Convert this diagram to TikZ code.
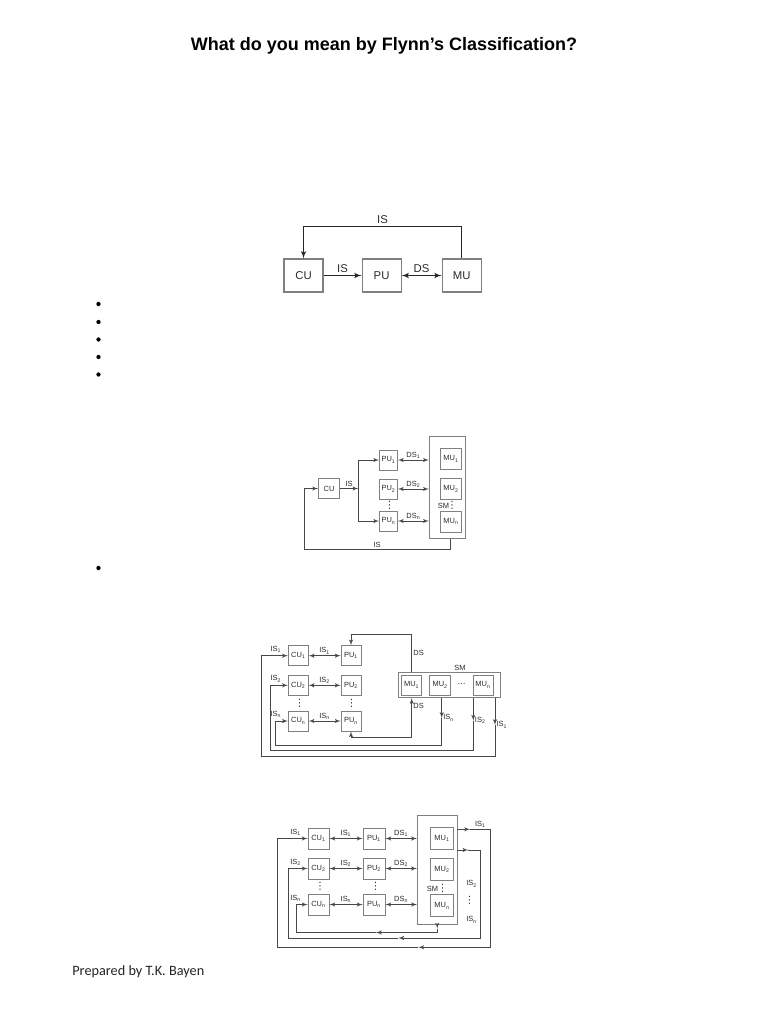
\documentclass[tikz,border=0pt]{standalone}
\usepackage{fontspec}
\setmainfont{Liberation Sans}
\newfontfamily\footfont{Carlito}
\newfontfamily\symfont{DejaVu Sans}
\usetikzlibrary{arrows, positioning, calc}
\definecolor{boxgray}{HTML}{808080}
\definecolor{linegray}{HTML}{474747}
\definecolor{txtgray}{HTML}{2B2B2B}
\tikzset{block/.style={draw=boxgray, fill=white, rectangle, inner sep=0pt, text=txtgray},
         bigblock/.style={block, line width=0.8pt, minimum width=29.25pt, minimum height=24.75pt, font=\fontsize{8.5}{9}\selectfont},
         smallblock/.style={block, line width=0.6pt, minimum width=15pt, minimum height=15pt, font=\fontsize{5.6}{6}\selectfont},
         smbox/.style={draw=boxgray, line width=0.6pt, rectangle, inner sep=0pt},
         lbl/.style={inner sep=1pt, text=txtgray, font=\fontsize{5.6}{6}\selectfont},
         biglbl/.style={inner sep=1.5pt, text=txtgray, font=\fontsize{8.5}{9}\selectfont},
         vdot/.style={inner sep=0pt, text=txtgray, font=\symfont\fontsize{7.5}{8}\selectfont},
         bullet/.style={circle, fill=black, inner sep=0pt, minimum size=3.2pt},
         >=latex'}
\begin{document}
\begin{tikzpicture}[x=0.75pt, y=-0.75pt, line width=0.5pt, color=linegray]
\useasboundingbox (0,0) rectangle (768,1024);
\fill[white] (0,0) rectangle (768,1024);

\node[text=black, font=\bfseries\fontsize{13.5}{16}\selectfont] (title) at (384,46) {What do you mean by Flynn’s Classification?};
\node[anchor=west, inner sep=0pt, text=black!85, font=\footfont\fontsize{10.7}{13}\selectfont] (prep) at (72,972) {Prepared by T.K. Bayen};

% bullets
\foreach \y [count=\i] in {304,322,339.5,357,374.5,568}
    \node[bullet] (dot\i) at (98.5,\y) {};

% SISD
\begin{scope}[line width=0.9pt, color=black!85]
    \node[bigblock] (cu) at (303.5,275.5) {CU};
    \node[bigblock, right=28.5pt of cu] (pu) {PU};
    \node[bigblock, right=30pt of pu] (mu) {MU};

    \draw[->] (cu) -- node[biglbl, above] {IS} (pu);
    \draw[<->] (pu) -- node[biglbl, above] {DS} (mu);
    \draw[->] (mu.north) -- ++(0,-32) -| node[biglbl, pos=0.25, above] {IS} (cu.north);
\end{scope}

% SIMD
\node[smallblock, minimum width=15.75pt] (cuB) at (329,488.5) {CU};
\node[smallblock, minimum width=13.5pt] (puB1) at (388.5,460) {PU\textsubscript{1}};
\node[smallblock, minimum width=13.5pt] (puB2) at (388.5,489) {PU\textsubscript{2}};
\node[smallblock, minimum width=13.5pt] (puBn) at (388.5,521) {PU\textsubscript{n}};
\node[vdot] (vdB) at (389.5,505.5) {⋮};
\node[smbox, minimum width=27pt, minimum height=76.5pt] (smB) at (447.2,487.5) {};
\node[smallblock, minimum width=16pt, minimum height=15.75pt] (muB1) at (451,459) {MU\textsubscript{1}};
\node[smallblock, minimum width=16pt, minimum height=15.75pt] (muB2) at (451,489) {MU\textsubscript{2}};
\node[smallblock, minimum width=16pt, minimum height=15.75pt] (muBn) at (451,521.7) {MU\textsubscript{n}};
\node[lbl] (smlblB) at (443.5,505.5) {SM};
\node[vdot] (vdB2) at (452,505.5) {⋮};

\coordinate (busB) at (358.3,488.5);
\coordinate (busB1) at (358.3,460);
\coordinate (busBn) at (358.3,521);
\coordinate (loopB) at (304,549.3);
\draw[->] (cuB) -- node[lbl, above] {IS} (busB);
\draw (busB1) -- (busBn);
\draw[->] (busB1) -- (puB1);
\draw[->] (busBn) -- (puBn);
\draw[<->] (puB1) -- node[lbl, above] {DS\textsubscript{1}} (puB1 -| smB.west);
\draw[<->] (puB2) -- node[lbl, above] {DS\textsubscript{2}} (puB2 -| smB.west);
\draw[<->] (puBn) -- node[lbl, above] {DS\textsubscript{n}} (puBn -| smB.west);
\draw[->] ([xshift=2.2pt]smB.south) |- (loopB) node[lbl, pos=0.75, above] {IS} |- (cuB.west);

% MISD
\foreach \i/\y in {1/655.7,2/685.3,n/721} {
    \node[smallblock] (cuC\i) at (298.3,\y) {CU\textsubscript{\i}};
    \node[smallblock] (puC\i) at (351,\y) {PU\textsubscript{\i}};
    \draw[<->] (cuC\i) -- node[lbl, above] {IS\textsubscript{\i}} (puC\i);
    \node[lbl, anchor=south east] at ([shift={(-5,-1.5)}]cuC\i.west) {IS\textsubscript{\i}};
}
\node[vdot] (vdC1) at (299.5,703) {⋮};
\node[vdot] (vdC2) at (351.5,703) {⋮};
\node[smbox, minimum width=76.3pt, minimum height=19pt] (smC) at (449.2,685) {};
\node[smallblock] (muC1) at (411.7,685) {MU\textsubscript{1}};
\node[smallblock, minimum width=16pt] (muC2) at (440.2,685) {MU\textsubscript{2}};
\node[smallblock] (muCn) at (483,685) {MU\textsubscript{n}};
\node[vdot, font=\symfont\fontsize{6}{7}\selectfont] (cdotsC) at (461.7,685) {⋯};
\node[lbl] (smlblC) at (460,668) {SM};

\draw[->] (smC.north -| muC1) -- node[lbl, right] {DS} ++(0,-37.3) -| (puC1.north);
\draw[<->] (puCn.south) -- ++(0,5.7) -| node[lbl, pos=0.9, right] {DS} (smC.south -| muC1);

\foreach \i/\x/\ya/\yb/\xl in {1/495/725/756.7/261, 2/473.3/720.7/750/270, n/441.7/718/745/275.7} {
    \coordinate (topC\i) at (\x,697.5);
    \coordinate (midC\i) at (\x,\ya);
    \coordinate (botC\i) at (\xl,\yb);
    \draw[->] (topC\i) -- (midC\i) node[lbl, right] {IS\textsubscript{\i}};
    \draw[->] (midC\i) |- (botC\i) |- (cuC\i.west);
}

% MIMD
\foreach \i/\y in {1/838.5,2/868.5,n/904.5} {
    \node[smallblock, minimum size=15.75pt] (cuD\i) at (318.5,\y) {CU\textsubscript{\i}};
    \node[smallblock, minimum width=16.5pt, minimum height=15.75pt] (puD\i) at (374,\y) {PU\textsubscript{\i}};
    \draw[<->] (cuD\i) -- node[lbl, above] {IS\textsubscript{\i}} (puD\i);
    \node[lbl, anchor=south east] at ([shift={(-5,-1.5)}]cuD\i.west) {IS\textsubscript{\i}};
}
\node[vdot] (vdD1) at (320,886.5) {⋮};
\node[vdot] (vdD2) at (375.5,886.5) {⋮};
\node[smbox, minimum width=29.8pt, minimum height=81.75pt] (smD) at (437.2,870) {};
\foreach \i/\y in {1/838.3,2/869.5,n/905.8}
    \node[smallblock, minimum width=16.7pt, minimum height=16.5pt] (muD\i) at (442,\y) {MU\textsubscript{\i}};
\node[lbl] (smlblD) at (432.5,889) {SM};
\node[vdot] (vdD3) at (442.5,888.5) {⋮};
\foreach \i in {1,2,n}
    \draw[<->] (puD\i) -- node[lbl, above] {DS\textsubscript{\i}} (puD\i -| smD.west);

\coordinate (aD1) at (470,829.3);
\coordinate (bD1) at (418.3,947.3);
\coordinate (lD1) at (277.3,947.3);
\draw[->] (smD.east |- aD1) -- (aD1);
\draw[->] (aD1) -- node[lbl, above] {IS\textsubscript{1}} ++(20.7,0) |- (bD1);
\draw[->] (bD1) -- (lD1) |- (cuD1.west);

\coordinate (aD2) at (468.3,850);
\coordinate (bD2) at (398.3,938);
\coordinate (lD2) at (288.3,938);
\draw[->] (smD.east |- aD2) -- (aD2);
\draw[->] (aD2) -- ++(11.7,0) |- (bD2);
\draw[->] (bD2) -- (lD2) |- (cuD2.west);
\node[lbl] (isD2) at (471.7,884) {IS\textsubscript{2}};
\node[vdot] (vdD4) at (469.5,900.5) {⋮};
\node[lbl] (isDn) at (471.7,920) {IS\textsubscript{n}};

\coordinate (aDn) at (437.2,928.5);
\coordinate (bDn) at (376,932.5);
\coordinate (lDn) at (296,932.5);
\draw[->] (smD.south) -- (aDn);
\draw[->] (aDn) |- (bDn);
\draw[->] (bDn) -- (lDn) |- (cuDn.west);
\end{tikzpicture}
\end{document}
